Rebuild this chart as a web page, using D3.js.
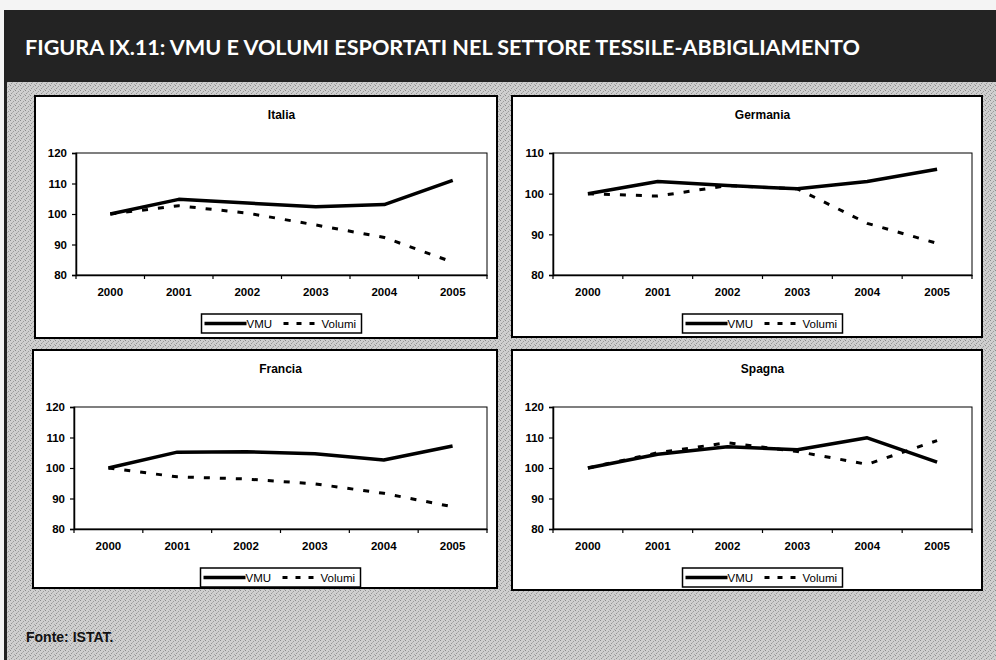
<!DOCTYPE html>
<html>
<head>
<meta charset="utf-8">
<script src="https://cdn.jsdelivr.net/npm/d3@7"></script>
<style>
  body { margin: 0; background: #fff; }
  svg { display: block; }
</style>
</head>
<body>
<div id="chart"></div>
<script>
// data
var years = ['2000', '2001', '2002', '2003', '2004', '2005'];
var seriesNames = ['VMU', 'Volumi'];

var italiaVMU = [100, 104.8, 103.6, 102.4, 103.1, 111];
var italiaVolumi = [100, 102.7, 100.3, 96.4, 92.3, 84.2];
var germaniaVMU = [100, 103, 102, 101.2, 103, 106];
var germaniaVolumi = [100, 99.4, 102, 101.2, 92.7, 87.8];
var franciaVMU = [100, 105.2, 105.3, 104.7, 102.6, 107.2];
var franciaVolumi = [100, 97.1, 96.4, 94.8, 91.7, 87.3];
var spagnaVMU = [100, 104.5, 107, 106, 109.9, 101.9];
var spagnaVolumi = [100, 105, 108.3, 105.4, 101.2, 109];

var italiaTicks = [80, 90, 100, 110, 120];
var germaniaTicks = [80, 90, 100, 110];
var franciaTicks = [80, 90, 100, 110, 120];
var spagnaTicks = [80, 90, 100, 110, 120];

var titleText = 'FIGURA IX.11: VMU E VOLUMI ESPORTATI NEL SETTORE TESSILE-ABBIGLIAMENTO';
var sourceText = 'Fonte: ISTAT.';

var CONFIG = { width: 996, height: 660 };

var panels = [
	{ name: 'Italia', vmu: italiaVMU, vol: italiaVolumi, ticks: italiaTicks, box: { x: 35, y: 96, w: 462, h: 242 } },
	{ name: 'Germania', vmu: germaniaVMU, vol: germaniaVolumi, ticks: germaniaTicks, box: { x: 512, y: 96, w: 470, h: 241 } },
	{ name: 'Francia', vmu: franciaVMU, vol: franciaVolumi, ticks: franciaTicks, box: { x: 33, y: 350, w: 464, h: 238 } },
	{ name: 'Spagna', vmu: spagnaVMU, vol: spagnaVolumi, ticks: spagnaTicks, box: { x: 512, y: 350, w: 470, h: 240 } }
];

var svg = d3
	.select('#chart')
	.append('svg')
	.attr('width', CONFIG.width)
	.attr('height', CONFIG.height);

// halftone-ish background texture (fixed dot layout)
var dotCells = [ [ 0, 0, '#8a8a8a' ], [ 3, 1, '#9c9c9c' ], [ 1, 3, '#949494' ], [ 4, 4, '#a8a8a8' ], [ 2, 2, '#b0b0b0' ] ];
var defs = svg.append('defs');
var pat = defs.append('pattern').attr('id', 'dots').attr('width', 5).attr('height', 5).attr('patternUnits', 'userSpaceOnUse');
pat.append('rect').attr('width', 5).attr('height', 5).attr('fill', '#cfcfcf');
dotCells.forEach((c) => {
	pat.append('rect').attr('x', c[0]).attr('y', c[1]).attr('width', 1).attr('height', 1).attr('fill', c[2]);
});

svg.append('rect').attr('width', CONFIG.width).attr('height', CONFIG.height).attr('fill', '#f4f4f4');
svg.append('rect').attr('x', 5).attr('y', 82).attr('width', CONFIG.width - 5).attr('height', CONFIG.height - 82).attr('fill', 'url(#dots)');

// header bar
svg.append('rect').attr('x', 5).attr('y', 10).attr('width', CONFIG.width - 5).attr('height', 72).attr('fill', '#232323');
svg.append('line').attr('x1', 5.5).attr('y1', 10).attr('x2', 5.5).attr('y2', CONFIG.height).attr('stroke', '#222').attr('stroke-width', 3);

svg
	.append('text')
	.attr('x', 25)
	.attr('y', 55)
	.attr('fill', '#fff')
	.attr('font-family', 'Lato, "Open Sans", sans-serif')
	.attr('font-weight', 'bold')
	.attr('font-size', 20)
	.attr('textLength', 835)
	.attr('lengthAdjust', 'spacingAndGlyphs')
	.text(titleText);

svg
	.append('text')
	.attr('x', 26)
	.attr('y', 642)
	.attr('fill', '#111')
	.attr('font-family', 'Arial, "Liberation Sans", sans-serif')
	.attr('font-weight', 'bold')
	.attr('font-size', 14)
	.text(sourceText);

var drawPanel = (p) => {
	var b = p.box;
	var g = svg.append('g').attr('class', 'panel');

	g
		.append('rect')
		.attr('x', b.x)
		.attr('y', b.y)
		.attr('width', b.w)
		.attr('height', b.h)
		.attr('fill', '#fff')
		.attr('stroke', '#000')
		.attr('stroke-width', 2);

	var left = b.x + 41;
	var right = b.x + b.w - 10;
	var top = b.y + 57;
	var bottom = top + 122;

	g
		.append('text')
		.attr('x', (left + right) / 2)
		.attr('y', b.y + 23)
		.attr('text-anchor', 'middle')
		.attr('font-family', 'Arial, "Liberation Sans", sans-serif')
		.attr('font-weight', 'bold')
		.attr('font-size', 12)
		.text(p.name);

	var x = d3.scaleBand().domain(years).range([ left, right ]).padding(0);
	var y = d3.scaleLinear().domain(d3.extent(p.ticks)).range([ bottom, top ]);

	// plot frame
	g
		.append('rect')
		.attr('x', left)
		.attr('y', top)
		.attr('width', right - left)
		.attr('height', bottom - top)
		.attr('fill', 'none')
		.attr('stroke', '#000')
		.attr('stroke-width', 1);

	var yAxis = g
		.append('g')
		.attr('transform', 'translate(' + left + ',0)')
		.call(d3.axisLeft(y).tickValues(p.ticks).tickSize(4).tickPadding(5));
	var xAxis = g
		.append('g')
		.attr('transform', 'translate(0,' + bottom + ')')
		.call(d3.axisBottom(x).tickSize(0).tickPadding(13));

	// category ticks sit between the categories
	xAxis
		.selectAll('.sep')
		.data(years.concat([ 'end' ]))
		.enter()
		.append('line')
		.attr('x1', (d, i) => left + i * x.bandwidth())
		.attr('x2', (d, i) => left + i * x.bandwidth())
		.attr('y1', 0)
		.attr('y2', 4)
		.attr('stroke', '#000')
		.attr('stroke-width', 1.2);

	[ yAxis, xAxis ].forEach((ax) => {
		ax.select('.domain').attr('stroke', '#000').attr('stroke-width', 1.5);
		ax.selectAll('.tick line').attr('stroke', '#000').attr('stroke-width', 1.2);
		ax
			.selectAll('text')
			.attr('fill', '#000')
			.attr('font-family', 'Arial, "Liberation Sans", sans-serif')
			.attr('font-weight', 'bold')
			.attr('font-size', 11.5);
	});

	var line = d3
		.line()
		.x((d, i) => x(years[i]) + x.bandwidth() / 2)
		.y((d) => y(d));

	g
		.append('path')
		.datum(p.vol)
		.attr('d', line)
		.attr('fill', 'none')
		.attr('stroke', '#000')
		.attr('stroke-width', 3)
		.attr('stroke-dasharray', '6,10');

	g
		.append('path')
		.datum(p.vmu)
		.attr('d', line)
		.attr('fill', 'none')
		.attr('stroke', '#000')
		.attr('stroke-width', 3.5)
		.attr('stroke-linejoin', 'round');

	// legend
	var lw = 160;
	var lh = 19;
	var lx = (left + right) / 2 - lw / 2;
	var ly = bottom + 39;
	var lg = g.append('g').attr('transform', 'translate(' + lx + ',' + ly + ')');
	lg
		.append('rect')
		.attr('width', lw)
		.attr('height', lh)
		.attr('fill', '#fff')
		.attr('stroke', '#000')
		.attr('stroke-width', 1.5);
	lg
		.append('line')
		.attr('x1', 3)
		.attr('x2', 45)
		.attr('y1', lh / 2)
		.attr('y2', lh / 2)
		.attr('stroke', '#000')
		.attr('stroke-width', 3.5);
	lg
		.append('text')
		.attr('x', 45)
		.attr('y', lh / 2 + 4)
		.attr('font-family', 'Arial, "Liberation Sans", sans-serif')
		.attr('font-size', 11.5)
		.text(seriesNames[0]);
	lg
		.append('line')
		.attr('x1', 82)
		.attr('x2', 120)
		.attr('y1', lh / 2)
		.attr('y2', lh / 2)
		.attr('stroke', '#000')
		.attr('stroke-width', 3)
		.attr('stroke-dasharray', '5,8');
	lg
		.append('text')
		.attr('x', 120)
		.attr('y', lh / 2 + 4)
		.attr('font-family', 'Arial, "Liberation Sans", sans-serif')
		.attr('font-size', 11.5)
		.text(seriesNames[1]);
};

panels.forEach(drawPanel);
</script>
</body>
</html>
